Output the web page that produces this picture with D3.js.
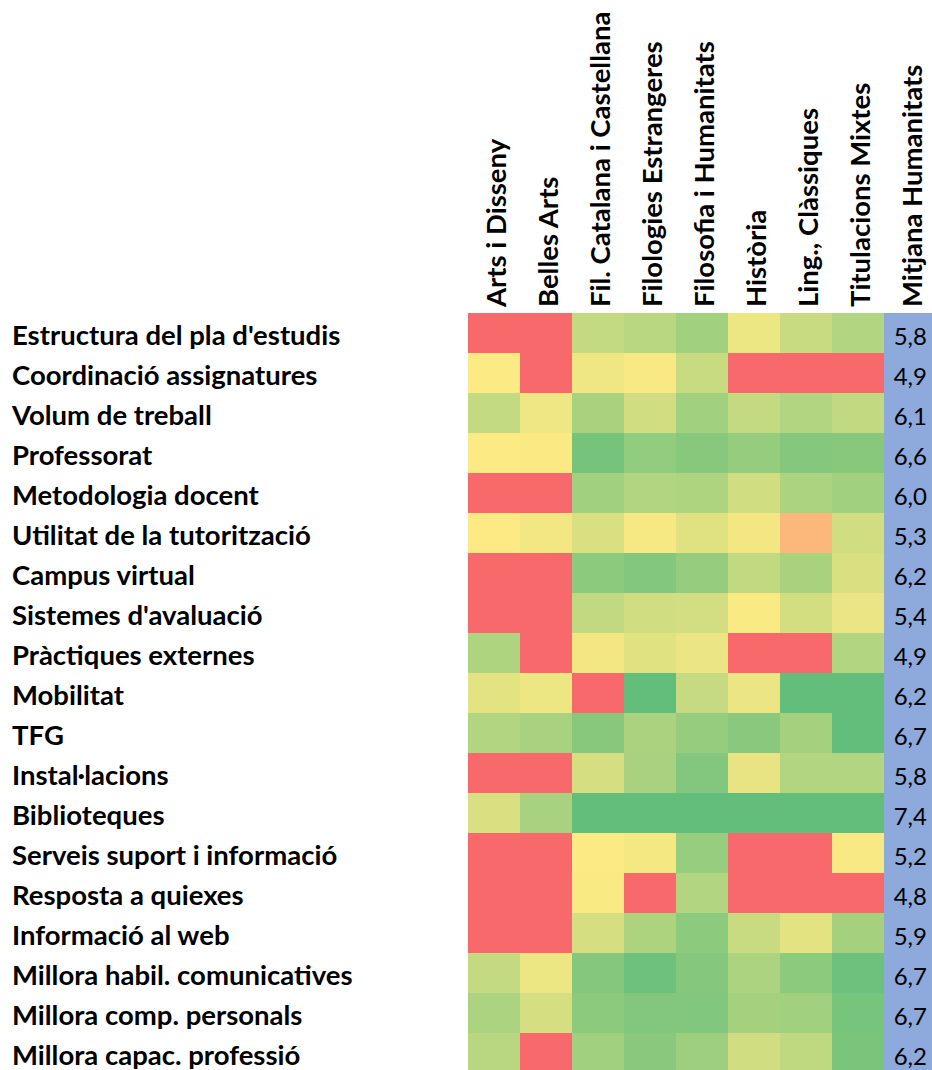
<!DOCTYPE html>
<html>
<head>
<meta charset="utf-8">
<script src="https://cdn.jsdelivr.net/npm/d3@7"></script>
<style>
  html, body { margin: 0; padding: 0; background: #fff; }
  svg { display: block; }
</style>
</head>
<body>
<svg id="chart" width="932" height="1070"></svg>
<script>
// Column categories (programmes)
const columns = ["Arts i Disseny", "Belles Arts", "Fil. Catalana i Castellana", "Filologies Estrangeres",
  "Filosofia i Humanitats", "Història", "Ling., Clàssiques", "Titulacions Mixtes"];
const avgColumn = "Mitjana Humanitats";

// Row categories (survey items)
const rows = ["Estructura del pla d'estudis", "Coordinació assignatures", "Volum de treball", "Professorat",
  "Metodologia docent", "Utilitat de la tutorització", "Campus virtual", "Sistemes d'avaluació",
  "Pràctiques externes", "Mobilitat", "TFG", "Instal·lacions", "Biblioteques",
  "Serveis suport i informació", "Resposta a quiexes", "Informació al web",
  "Millora habil. comunicatives", "Millora comp. personals", "Millora capac. professió"];

// Estimated scores per row (one value per programme column)
const estructura   = [3.9, 3.9, 6.26, 6.4, 6.7, 5.74, 6.2, 6.5];
const coordinacio  = [5.54, 3.9, 5.7, 5.58, 6.2, 3.9, 3.9, 3.9];
const volum        = [6.26, 5.7, 6.6, 6.1, 6.7, 6.26, 6.5, 6.3];
const professorat  = [5.54, 5.55, 7.26, 6.9, 7.04, 6.86, 7.06, 7.04];
const metodologia  = [3.9, 3.9, 6.7, 6.5, 6.54, 6.1, 6.56, 6.7];
const tutoritzacio = [5.53, 5.66, 6.0, 5.62, 5.9, 5.66, 4.91, 6.1];
const campus       = [3.9, 3.9, 6.98, 7.1, 6.86, 6.3, 6.6, 6.0];
const avaluacio    = [3.9, 3.9, 6.3, 6.1, 6.08, 5.56, 6.06, 5.76];
const practiques   = [6.52, 3.9, 5.66, 5.9, 5.76, 3.9, 3.9, 6.5];
const mobilitat    = [5.84, 5.74, 3.9, 7.6, 6.24, 5.76, 7.6, 7.6];
const tfg          = [6.5, 6.62, 7.04, 6.58, 6.86, 7.0, 6.66, 7.6];
const installacions= [3.9, 3.9, 6.04, 6.62, 7.1, 5.8, 6.5, 6.5];
const biblioteques = [6.0, 6.62, 7.6, 7.6, 7.6, 7.6, 7.6, 7.6];
const serveis      = [3.9, 3.9, 5.54, 5.64, 6.84, 3.9, 3.9, 5.58];
const queixes      = [3.9, 3.9, 5.56, 3.9, 6.5, 3.9, 3.9, 3.9];
const web          = [3.9, 3.9, 6.04, 6.55, 6.98, 6.2, 5.84, 6.66];
const habil        = [6.26, 5.74, 7.06, 7.36, 7.06, 6.56, 6.98, 7.36];
const comp         = [6.56, 6.04, 6.98, 7.1, 7.12, 6.66, 6.7, 7.24];
const capac        = [6.4, 3.9, 6.7, 7.0, 6.74, 6.1, 6.32, 7.2];

const values = [estructura, coordinacio, volum, professorat, metodologia, tutoritzacio, campus,
  avaluacio, practiques, mobilitat, tfg, installacions, biblioteques, serveis, queixes, web,
  habil, comp, capac];

// Average column labels
const averages = ["5,8", "4,9", "6,1", "6,6", "6,0", "5,3", "6,2", "5,4", "4,9", "6,2",
  "6,7", "5,8", "7,4", "5,2", "4,8", "5,9", "6,7", "6,7", "6,2"];

const svg = d3.select("#chart");

const gridLeft = 468, cellW = 52, gridTop = 313, cellH = 40;
const allCols = columns.concat([avgColumn]);

const x = d3.scaleBand().domain(allCols).range([gridLeft, gridLeft + cellW * allCols.length]).padding(0);
const y = d3.scaleBand().domain(rows).range([gridTop, gridTop + cellH * rows.length]).padding(0);

const color = d3.scaleLinear()
  .domain([4.0, 5.5, 7.5])
  .range(["#F8696B", "#FFEB84", "#63BE7B"])
  .clamp(true);

const cells = [];
rows.forEach((r, i) => columns.forEach((c, j) => cells.push({ row: r, col: c, v: values[i][j] })));

svg.append("g").selectAll("rect").data(cells).join("rect")
  .attr("x", d => x(d.col))
  .attr("y", d => y(d.row))
  .attr("width", x.bandwidth())
  .attr("height", y.bandwidth())
  .attr("fill", d => color(d.v))
  .attr("shape-rendering", "crispEdges");

// Average column
svg.append("g").selectAll("rect").data(rows).join("rect")
  .attr("x", x(avgColumn))
  .attr("y", d => y(d))
  .attr("width", x.bandwidth())
  .attr("height", y.bandwidth())
  .attr("fill", "#8EA9DB")
  .attr("shape-rendering", "crispEdges");

svg.append("g").selectAll("text").data(rows).join("text")
  .attr("x", 927)
  .attr("y", d => y(d) + y.bandwidth() - 8)
  .attr("text-anchor", "end")
  .attr("font-family", "Lato, sans-serif")
  .attr("font-size", 24)
  .attr("fill", "#000")
  .text((d, i) => averages[i]);

// Row labels
svg.append("g").selectAll("text").data(rows).join("text")
  .attr("x", 12)
  .attr("y", d => y(d) + y.bandwidth() - 8)
  .attr("font-family", "Lato, sans-serif")
  .attr("font-weight", "bold")
  .attr("font-size", 27.5)
  .attr("fill", "#000")
  .text(d => d);

// Column headers (rotated)
svg.append("g").selectAll("text").data(allCols).join("text")
  .attr("transform", d => `translate(${x(d) + x.bandwidth() - 14},307) rotate(-90)`)
  .attr("font-family", "Lato, sans-serif")
  .attr("font-weight", "bold")
  .attr("font-size", 27.5)
  .attr("fill", "#000")
  .text(d => d);
</script>
</body>
</html>
